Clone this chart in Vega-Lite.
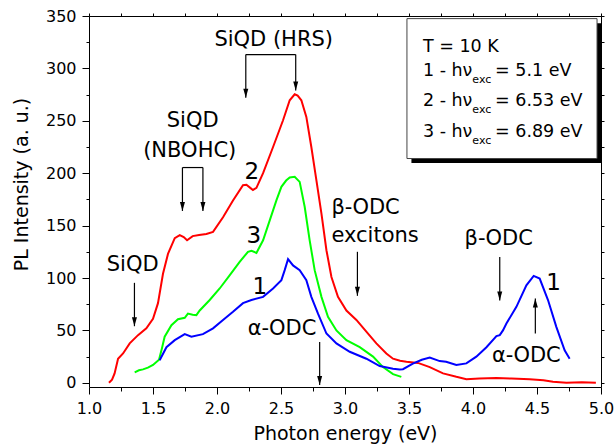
{
  "$schema": "https://vega.github.io/schema/vega-lite/v6.json",
  "width": 512,
  "height": 371,
  "autosize": "none",
  "padding": {"left": 89, "top": 16, "right": 15, "bottom": 58},
  "config": {
    "view": {"stroke": null},
    "font": "DejaVu Sans",
    "axis": {
      "grid": false,
      "domainColor": "black",
      "domainWidth": 1,
      "tickColor": "black",
      "tickWidth": 1,
      "labelColor": "black",
      "labelFont": "DejaVu Sans",
      "labelFontSize": 16,
      "titleColor": "black",
      "titleFont": "DejaVu Sans",
      "titleFontSize": 19,
      "titleFontWeight": "normal",
      "labelFlush": false,
      "labelOverlap": false
    }
  },
  "datasets": {
    "curves": [
      {"s":"2","x":1.156,"y":0},{"s":"2","x":1.18,"y":3},{"s":"2","x":1.2,"y":9},{"s":"2","x":1.227,"y":23},{"s":"2","x":1.266,"y":28},{"s":"2","x":1.318,"y":37.6},{"s":"2","x":1.383,"y":45.5},{"s":"2","x":1.448,"y":52},{"s":"2","x":1.5,"y":61},{"s":"2","x":1.539,"y":76},{"s":"2","x":1.578,"y":104},{"s":"2","x":1.617,"y":123},{"s":"2","x":1.67,"y":138},{"s":"2","x":1.709,"y":141},{"s":"2","x":1.74,"y":139},{"s":"2","x":1.766,"y":136},{"s":"2","x":1.81,"y":140},{"s":"2","x":1.86,"y":141},{"s":"2","x":1.917,"y":142},{"s":"2","x":1.969,"y":144},{"s":"2","x":2.047,"y":158},{"s":"2","x":2.125,"y":174},{"s":"2","x":2.203,"y":188.5},{"s":"2","x":2.23,"y":189},{"s":"2","x":2.26,"y":186},{"s":"2","x":2.281,"y":184},{"s":"2","x":2.308,"y":186},{"s":"2","x":2.36,"y":200},{"s":"2","x":2.438,"y":225},{"s":"2","x":2.516,"y":250.5},{"s":"2","x":2.568,"y":269.6},{"s":"2","x":2.607,"y":275.3},{"s":"2","x":2.63,"y":274},{"s":"2","x":2.659,"y":269.6},{"s":"2","x":2.698,"y":253.7},{"s":"2","x":2.737,"y":225},{"s":"2","x":2.777,"y":193},{"s":"2","x":2.816,"y":161.5},{"s":"2","x":2.855,"y":126.5},{"s":"2","x":2.894,"y":101},{"s":"2","x":2.945,"y":82},{"s":"2","x":3.011,"y":69},{"s":"2","x":3.089,"y":60},{"s":"2","x":3.18,"y":47},{"s":"2","x":3.245,"y":37.6},{"s":"2","x":3.323,"y":28},{"s":"2","x":3.375,"y":23},{"s":"2","x":3.43,"y":21},{"s":"2","x":3.48,"y":20},{"s":"2","x":3.57,"y":19},{"s":"2","x":3.662,"y":15},{"s":"2","x":3.766,"y":9},{"s":"2","x":3.87,"y":5.7},{"s":"2","x":3.948,"y":3.5},{"s":"2","x":4.05,"y":4},{"s":"2","x":4.183,"y":4.5},{"s":"2","x":4.3,"y":4},{"s":"2","x":4.443,"y":3.5},{"s":"2","x":4.55,"y":2.5},{"s":"2","x":4.625,"y":1},{"s":"2","x":4.73,"y":0},{"s":"2","x":4.85,"y":0.5},{"s":"2","x":4.96,"y":0},
      {"s":"3","x":1.357,"y":10},{"s":"3","x":1.39,"y":12},{"s":"3","x":1.422,"y":12.8},{"s":"3","x":1.46,"y":14.5},{"s":"3","x":1.5,"y":17},{"s":"3","x":1.547,"y":22},{"s":"3","x":1.57,"y":33},{"s":"3","x":1.591,"y":44},{"s":"3","x":1.644,"y":55},{"s":"3","x":1.695,"y":60.7},{"s":"3","x":1.748,"y":62},{"s":"3","x":1.773,"y":66},{"s":"3","x":1.81,"y":65},{"s":"3","x":1.839,"y":64.6},{"s":"3","x":1.865,"y":69},{"s":"3","x":1.943,"y":79},{"s":"3","x":2.021,"y":90},{"s":"3","x":2.1,"y":102.7},{"s":"3","x":2.177,"y":115.4},{"s":"3","x":2.242,"y":125},{"s":"3","x":2.27,"y":126},{"s":"3","x":2.308,"y":124},{"s":"3","x":2.36,"y":136},{"s":"3","x":2.412,"y":155},{"s":"3","x":2.464,"y":174},{"s":"3","x":2.503,"y":187},{"s":"3","x":2.54,"y":193},{"s":"3","x":2.568,"y":196},{"s":"3","x":2.607,"y":196.5},{"s":"3","x":2.646,"y":191.7},{"s":"3","x":2.685,"y":168},{"s":"3","x":2.724,"y":136},{"s":"3","x":2.763,"y":107.5},{"s":"3","x":2.816,"y":82},{"s":"3","x":2.867,"y":63},{"s":"3","x":2.933,"y":50},{"s":"3","x":3.011,"y":40.7},{"s":"3","x":3.115,"y":34},{"s":"3","x":3.219,"y":25},{"s":"3","x":3.297,"y":15},{"s":"3","x":3.375,"y":8.3},{"s":"3","x":3.44,"y":5.7},
      {"s":"1","x":1.552,"y":21.6},{"s":"1","x":1.605,"y":34},{"s":"1","x":1.67,"y":40.7},{"s":"1","x":1.748,"y":46.4},{"s":"1","x":1.8,"y":44},{"s":"1","x":1.89,"y":46.4},{"s":"1","x":1.969,"y":52},{"s":"1","x":2.047,"y":60},{"s":"1","x":2.125,"y":67.7},{"s":"1","x":2.203,"y":76},{"s":"1","x":2.269,"y":79},{"s":"1","x":2.36,"y":82},{"s":"1","x":2.438,"y":90},{"s":"1","x":2.503,"y":98},{"s":"1","x":2.529,"y":107.5},{"s":"1","x":2.555,"y":118},{"s":"1","x":2.594,"y":112},{"s":"1","x":2.646,"y":107.5},{"s":"1","x":2.698,"y":98},{"s":"1","x":2.737,"y":82},{"s":"1","x":2.789,"y":66},{"s":"1","x":2.855,"y":47},{"s":"1","x":2.933,"y":37.6},{"s":"1","x":3.037,"y":29.6},{"s":"1","x":3.167,"y":23},{"s":"1","x":3.271,"y":16},{"s":"1","x":3.375,"y":13.5},{"s":"1","x":3.427,"y":12.7},{"s":"1","x":3.453,"y":13},{"s":"1","x":3.53,"y":18.3},{"s":"1","x":3.6,"y":22},{"s":"1","x":3.662,"y":24},{"s":"1","x":3.74,"y":20.7},{"s":"1","x":3.79,"y":20},{"s":"1","x":3.87,"y":17},{"s":"1","x":3.948,"y":18.5},{"s":"1","x":4.026,"y":25},{"s":"1","x":4.105,"y":34},{"s":"1","x":4.183,"y":44.5},{"s":"1","x":4.209,"y":45.5},{"s":"1","x":4.234,"y":50},{"s":"1","x":4.261,"y":56.6},{"s":"1","x":4.339,"y":72.5},{"s":"1","x":4.417,"y":93},{"s":"1","x":4.474,"y":102},{"s":"1","x":4.521,"y":99.5},{"s":"1","x":4.586,"y":79},{"s":"1","x":4.651,"y":53.4},{"s":"1","x":4.716,"y":31},{"s":"1","x":4.755,"y":23}
    ],
    "boxes": [
      {"k":"shadow","x":3.519,"x2":5.0,"y":343.2,"y2":209.7},
      {"k":"box","x":3.484,"x2":4.969,"y":347.5,"y2":214}
    ],
    "segs": [
      {"x":2.225,"y":313.2,"x2":2.615,"y2":313.2},
      {"x":2.225,"y":313.2,"x2":2.225,"y2":272},
      {"x":2.615,"y":313.2,"x2":2.615,"y2":279},
      {"x":1.73,"y":205.4,"x2":1.89,"y2":205.4},
      {"x":1.73,"y":205.4,"x2":1.73,"y2":164},
      {"x":1.89,"y":205.4,"x2":1.89,"y2":164},
      {"x":1.355,"y":95.4,"x2":1.355,"y2":54},
      {"x":2.802,"y":39,"x2":2.802,"y2":-2.2},
      {"x":3.097,"y":125,"x2":3.097,"y2":83},
      {"x":4.209,"y":120,"x2":4.209,"y2":78.5},
      {"x":4.487,"y":47,"x2":4.487,"y2":80.5}
    ],
    "heads": [
      {"d":"down","x":2.225,"y":272},
      {"d":"down","x":2.615,"y":279},
      {"d":"down","x":1.73,"y":164},
      {"d":"down","x":1.89,"y":164},
      {"d":"down","x":1.355,"y":54},
      {"d":"down","x":2.802,"y":-2.2},
      {"d":"down","x":3.097,"y":83},
      {"d":"down","x":4.209,"y":78.5},
      {"d":"up","x":4.487,"y":80.5}
    ],
    "texts": [
      {"k":"c","x":2.443,"y":321.4,"t":"SiQD (HRS)"},
      {"k":"c","x":1.81,"y":244,"t":"SiQD"},
      {"k":"c","x":1.787,"y":215.5,"t":"(NBOHC)"},
      {"k":"c","x":1.341,"y":106.5,"t":"SiQD"},
      {"k":"c","x":2.508,"y":45.5,"t":"α-ODC"},
      {"k":"c","x":4.201,"y":131.8,"t":"β-ODC"},
      {"k":"c","x":4.417,"y":20.3,"t":"α-ODC"},
      {"k":"l","x":2.894,"y":161.5,"t":"β-ODC"},
      {"k":"l","x":2.894,"y":134.5,"t":"excitons"},
      {"k":"n","x":2.271,"y":194.3,"t":"2"},
      {"k":"n","x":2.287,"y":133,"t":"3"},
      {"k":"n","x":2.334,"y":84.6,"t":"1"},
      {"k":"n","x":4.63,"y":88.4,"t":"1"},
      {"k":"g","x":3.609,"y":315.6,"t":"T = 10 K"},
      {"k":"g","x":3.609,"y":292.5,"t":"1 - hν"},
      {"k":"g","x":4.172,"y":292.5,"t":"= 5.1 eV"},
      {"k":"g","x":3.609,"y":263.9,"t":"2 - hν"},
      {"k":"g","x":4.172,"y":263.9,"t":"= 6.53 eV"},
      {"k":"g","x":3.609,"y":234.6,"t":"3 - hν"},
      {"k":"g","x":4.172,"y":234.6,"t":"= 6.89 eV"},
      {"k":"sub","x":3.995,"y":285.8,"t":"exc"},
      {"k":"sub","x":3.995,"y":257.2,"t":"exc"},
      {"k":"sub","x":3.995,"y":227.9,"t":"exc"}
    ]
  },
  "layer": [
    {
      "encoding": {
        "x": {
          "field": "x",
          "type": "quantitative",
          "scale": {"domain": [1, 5], "nice": false, "zero": false},
          "axis": {
            "orient": "bottom",
            "title": "Photon energy (eV)",
            "values": [1,1.25,1.5,1.75,2,2.25,2.5,2.75,3,3.25,3.5,3.75,4,4.25,4.5,4.75,5],
            "labelExpr": "abs(datum.value*2 - round(datum.value*2)) < 0.001 ? format(datum.value, '.1f') : ''",
            "tickSize": {"condition": {"test": "abs(datum.value*2 - round(datum.value*2)) < 0.001", "value": 7}, "value": 4},
            "labelPadding": 6,
            "titlePadding": 8
          }
        },
        "y": {
          "field": "y",
          "type": "quantitative",
          "scale": {"domain": [-4, 350], "nice": false, "zero": false},
          "axis": {
            "orient": "left",
            "title": "PL Intensity (a. u.)",
            "values": [0,25,50,75,100,125,150,175,200,225,250,275,300,325,350],
            "labelExpr": "datum.value % 50 === 0 ? datum.label : ''",
            "tickSize": {"condition": {"test": "datum.value % 50 === 0", "value": 7}, "value": 3},
            "labelPadding": 6,
            "titleX": -58,
            "titleY": 168
          }
        }
      },
      "layer": [
        {
          "data": {"name": "boxes"},
          "transform": [{"filter": "datum.k == 'shadow'"}],
          "mark": {"type": "rect", "fill": "black"},
          "encoding": {"x2": {"field": "x2"}, "y2": {"field": "y2"}}
        },
        {
          "data": {"name": "boxes"},
          "transform": [{"filter": "datum.k == 'box'"}],
          "mark": {"type": "rect", "fill": "white", "stroke": "#444444", "strokeWidth": 1},
          "encoding": {"x2": {"field": "x2"}, "y2": {"field": "y2"}}
        },
        {
          "data": {"name": "curves"},
          "mark": {"type": "line", "strokeWidth": 2},
          "encoding": {
            "color": {
              "field": "s",
              "type": "nominal",
              "scale": {"domain": ["1", "2", "3"], "range": ["#0000ff", "#ff0000", "#00ff00"]},
              "legend": null
            }
          }
        },
        {
          "data": {"name": "segs"},
          "mark": {"type": "rule", "color": "black", "strokeWidth": 1.2},
          "encoding": {"x2": {"field": "x2"}, "y2": {"field": "y2"}}
        },
        {
          "data": {"name": "heads"},
          "transform": [{"filter": "datum.d == 'down'"}],
          "mark": {"type": "point", "filled": true, "color": "black", "opacity": 1, "size": 25, "shape": "M-1,-3.6L1,-3.6L0,0Z"}
        },
        {
          "data": {"name": "heads"},
          "transform": [{"filter": "datum.d == 'up'"}],
          "mark": {"type": "point", "filled": true, "color": "black", "opacity": 1, "size": 25, "shape": "M-1,3.6L1,3.6L0,0Z"}
        },
        {
          "data": {"name": "texts"},
          "transform": [{"filter": "datum.k == 'c'"}],
          "mark": {"type": "text", "fontSize": 21, "align": "center", "baseline": "alphabetic", "color": "black"},
          "encoding": {"text": {"field": "t"}}
        },
        {
          "data": {"name": "texts"},
          "transform": [{"filter": "datum.k == 'l'"}],
          "mark": {"type": "text", "fontSize": 21, "align": "left", "baseline": "alphabetic", "color": "black"},
          "encoding": {"text": {"field": "t"}}
        },
        {
          "data": {"name": "texts"},
          "transform": [{"filter": "datum.k == 'n'"}],
          "mark": {"type": "text", "fontSize": 23, "align": "center", "baseline": "alphabetic", "color": "black"},
          "encoding": {"text": {"field": "t"}}
        },
        {
          "data": {"name": "texts"},
          "transform": [{"filter": "datum.k == 'g'"}],
          "mark": {"type": "text", "fontSize": 17.5, "align": "left", "baseline": "alphabetic", "color": "black"},
          "encoding": {"text": {"field": "t"}}
        },
        {
          "data": {"name": "texts"},
          "transform": [{"filter": "datum.k == 'sub'"}],
          "mark": {"type": "text", "fontSize": 11, "align": "left", "baseline": "alphabetic", "color": "black"},
          "encoding": {"text": {"field": "t"}}
        }
      ]
    },
    {
      "data": {"values": [{"x": 1, "y": 0}]},
      "mark": {"type": "point", "opacity": 0},
      "encoding": {
        "x": {
          "field": "x",
          "type": "quantitative",
          "scale": {"domain": [1, 5], "nice": false, "zero": false},
          "axis": {
            "orient": "top",
            "title": null,
            "labels": false,
            "values": [1,1.25,1.5,1.75,2,2.25,2.5,2.75,3,3.25,3.5,3.75,4,4.25,4.5,4.75,5],
            "tickSize": 3
          }
        },
        "y": {
          "field": "y",
          "type": "quantitative",
          "scale": {"domain": [-4, 350], "nice": false, "zero": false},
          "axis": {
            "orient": "right",
            "title": null,
            "labels": false,
            "values": [0,25,50,75,100,125,150,175,200,225,250,275,300,325,350],
            "tickSize": 3
          }
        }
      }
    }
  ],
  "resolve": {"axis": {"x": "independent", "y": "independent"}}
}
